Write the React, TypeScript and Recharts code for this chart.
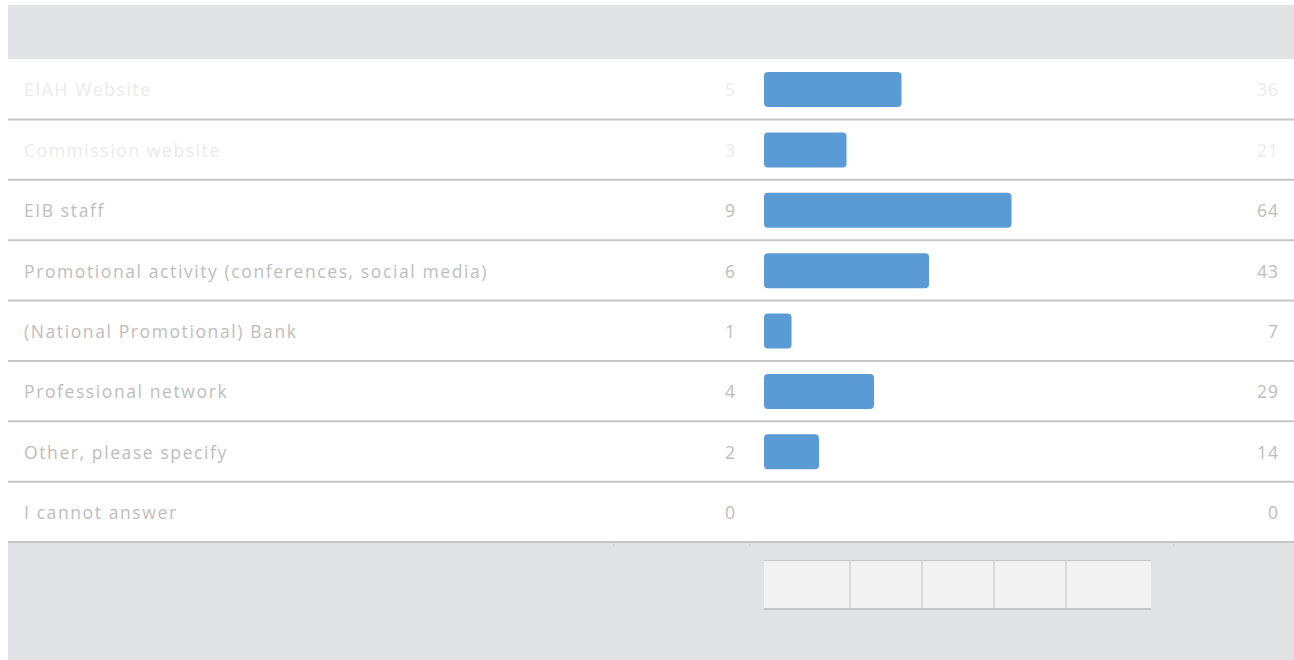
import { BarChart, Bar, XAxis, YAxis } from 'recharts';

const sources = [
  'EIAH Website',
  'Commission website',
  'EIB staff',
  'Promotional activity (conferences, social media)',
  '(National Promotional) Bank',
  'Professional network',
  'Other, please specify',
  'I cannot answer',
];
const counts = [5, 3, 9, 6, 1, 4, 2, 0];
const percents = [36, 21, 64, 43, 7, 29, 14, 0];

const chartData = sources.map((source, i) => ({
  source,
  count: counts[i],
  percent: percents[i],
}));

const W = 1294;
const H = 660;
const TOP = 59;
const BOTTOM = 542;
const FONT = '"Open Sans", "Noto Sans", sans-serif';
const LINE = '#c6c6c6';

// the first two rows are drawn much paler in the original
const textColor = (i: number) => (i < 2 ? '#ebebeb' : '#bdbdbd');

const renderRow = (props: any) => {
  const { y, payload, index } = props;
  const i = payload && typeof payload.index === 'number' ? payload.index : index;
  const half = (payload && payload.offset) || (BOTTOM - TOP) / sources.length / 2;
  const common = {
    y: y + 1,
    dy: '0.36em',
    fontFamily: FONT,
    fontSize: 17.5,
    fill: textColor(i),
  };
  return (
    <g key={`row-${i}`}>
      <text {...common} x={24} textAnchor="start" letterSpacing={1.6}>
        {sources[i]}
      </text>
      <text {...common} x={735} textAnchor="end">
        {counts[i]}
      </text>
      <text {...common} x={1279} textAnchor="end" letterSpacing={1}>
        {percents[i]}
      </text>
      <line x1={8} x2={W} y1={y + half} y2={y + half} stroke={LINE} strokeWidth={2} />
    </g>
  );
};

const footerCells = [85, 72, 72, 72, 86];

export default function App() {
  return (
    <div style={{ position: 'absolute', left: 0, top: 0, width: W, height: H, background: '#fff' }}>
      <div style={{ position: 'absolute', left: 8, top: 5, width: W - 8, height: TOP - 5, background: '#e1e2e4' }} />
      <div style={{ position: 'absolute', left: 8, top: BOTTOM, width: W - 8, height: H - BOTTOM, background: '#e1e2e4' }} />
      {[613, 749, 1173].map((x) => (
        <div key={x} style={{ position: 'absolute', left: x, top: BOTTOM, width: 1, height: 4, background: '#d0d0d0' }} />
      ))}
      <div
        style={{
          position: 'absolute',
          left: 764,
          top: 560,
          display: 'flex',
          borderTop: '1px solid #c8c8c8',
          borderBottom: '2px solid #c4c4c4',
        }}
      >
        {footerCells.map((w, i) => (
          <div
            key={i}
            style={{
              width: w,
              height: 47,
              background: '#f2f2f2',
              borderLeft: i === 0 ? 'none' : '2px solid #d9d9d9',
              boxSizing: 'border-box',
            }}
          />
        ))}
      </div>
      <div style={{ position: 'absolute', left: 0, top: 0 }}>
        <BarChart
          width={W}
          height={H}
          data={chartData}
          layout="vertical"
          margin={{ top: TOP, bottom: H - BOTTOM, left: 763, right: 145 }}
          barCategoryGap={0}
        >
          <XAxis type="number" domain={[0, 14]} hide />
          <YAxis
            type="category"
            dataKey="source"
            width={1}
            axisLine={false}
            tickLine={false}
            interval={0}
            tick={renderRow}
          />
          <Bar dataKey="count" fill="#5b9bd5" barSize={35} radius={4} isAnimationActive={false} />
        </BarChart>
      </div>
    </div>
  );
}
